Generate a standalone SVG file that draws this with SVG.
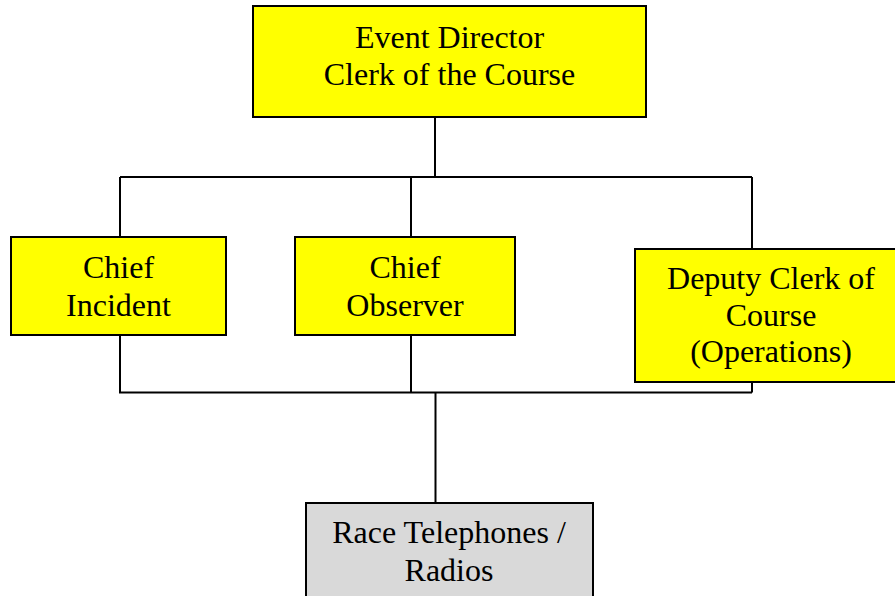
<svg xmlns="http://www.w3.org/2000/svg" width="895" height="596" viewBox="0 0 895 596">
<style>
.box{fill:#ffff00;stroke:#000;stroke-width:2}
.gray{fill:#d9d9d9;stroke:#000;stroke-width:2}
.t{font-family:"Liberation Serif","Times New Roman",serif;font-size:32px;fill:#000;text-anchor:middle}
.c{fill:none;stroke:#000;stroke-width:2}
</style>
<rect width="895" height="596" fill="#fff"/>
<g id="connectors">
<path class="c" d="M435 117V177M120 177H752M120 177V237M411 177V237M752 177V249"/>
<path class="c" d="M120 335V392.5H752M411 335V392.5M752 382V392.5M435.5 392.5V503"/>
</g>
<g id="event-director">
<rect class="box" x="253" y="6" width="393" height="111"/>
<text class="t" x="449.5" y="48">Event Director</text>
<text class="t" x="449.5" y="85">Clerk of the Course</text>
</g>
<g id="chief-incident">
<rect class="box" x="11" y="237" width="215" height="98"/>
<text class="t" x="118.5" y="278">Chief</text>
<text class="t" x="118.5" y="316">Incident</text>
</g>
<g id="chief-observer">
<rect class="box" x="295" y="237" width="220" height="98"/>
<text class="t" x="405" y="278">Chief</text>
<text class="t" x="405" y="316">Observer</text>
</g>
<g id="deputy-clerk">
<rect class="box" x="635" y="249" width="272" height="133"/>
<text class="t" x="771" y="289">Deputy Clerk of</text>
<text class="t" x="771" y="326">Course</text>
<text class="t" x="771" y="362">(Operations)</text>
</g>
<g id="race-telephones">
<rect class="gray" x="306" y="503" width="287" height="100"/>
<text class="t" x="449" y="543">Race Telephones /</text>
<text class="t" x="449" y="581">Radios</text>
</g>
</svg>
